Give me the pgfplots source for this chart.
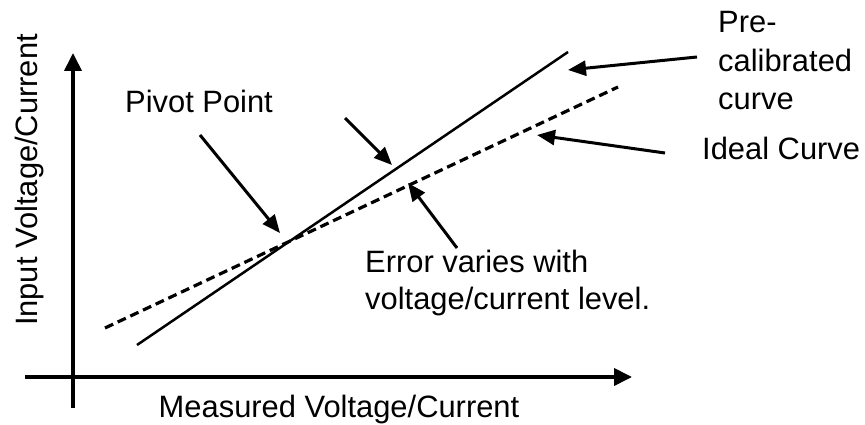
\documentclass[border=0pt]{standalone}
\usepackage{pgfplots}
\pgfplotsset{compat=1.18}
\usepackage{fontspec}
\setmainfont{Liberation Sans}
\usetikzlibrary{arrows.meta}
\begin{document}
\begin{tikzpicture}[x=1bp,y=1bp, lbl/.style={font=\fontsize{31}{38}\selectfont, inner sep=0pt},
  ann/.style={line width=3bp, -{Triangle[length=18bp,width=15bp]}}]
\begin{axis}[
  hide axis, scale only axis, width=865bp, height=425bp,
  xmin=0, xmax=865, ymin=-425, ymax=0, clip=false,
]
\path (axis cs:0,-425) rectangle (axis cs:865,0);
% axes
\draw[line width=3.8bp, -{Triangle[length=18bp,width=17bp]}] (axis cs:73,-408) -- (axis cs:73,-53);
\draw[line width=3.8bp, -{Triangle[length=18bp,width=17bp]}] (axis cs:25,-377) -- (axis cs:632,-377);
% curves
\addplot[black, line width=2.5bp] coordinates {(137,-345) (568,-52)};
\addplot[black, line width=3.2bp, dash pattern=on 9bp off 5bp] coordinates {(105,-328) (618,-87)};
% annotation arrows
\draw[ann] (axis cs:200,-135) -- (axis cs:280,-233);
\draw[ann] (axis cs:345,-118) -- (axis cs:392,-165);
\draw[ann] (axis cs:457,-248) -- (axis cs:408,-183);
\draw[ann] (axis cs:697,-57) -- (axis cs:568,-70);
\draw[ann] (axis cs:665,-153) -- (axis cs:537,-135);
% labels
\node[lbl, anchor=base, rotate=90] at (axis cs:37,-180) {Input Voltage/Current};
\node[lbl, anchor=base] at (axis cs:339,-417) {Measured Voltage/Current};
\node[lbl, anchor=base west] at (axis cs:125,-113) {Pivot Point};
\node[lbl, anchor=base west] at (axis cs:718,-33) {Pre-};
\node[lbl, anchor=base west] at (axis cs:718,-72) {calibrated};
\node[lbl, anchor=base west] at (axis cs:718,-110) {curve};
\node[lbl, anchor=base west] at (axis cs:702,-160) {Ideal Curve};
\node[lbl, anchor=base west] at (axis cs:365,-273) {Error varies with};
\node[lbl, anchor=base west] at (axis cs:365,-310) {voltage/current level.};
\end{axis}
\end{tikzpicture}
\end{document}
